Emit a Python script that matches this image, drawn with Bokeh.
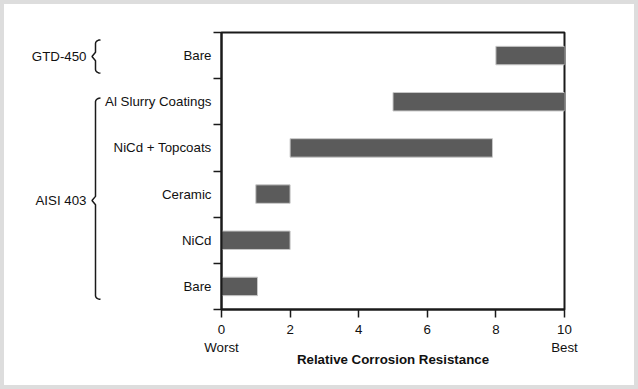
import numpy as np
from bokeh.plotting import figure
from bokeh.layouts import row
from bokeh.models import Range1d, FixedTicker, ColumnDataSource
from bokeh.embed import file_html
from bokeh.resources import INLINE

# ---- data (bottom to top) ----
coatings = ["Bare", "NiCd", "Ceramic", "NiCd + Topcoats", "Al Slurry Coatings", "Bare"]
alloys = ["AISI 403", "AISI 403", "AISI 403", "AISI 403", "AISI 403", "GTD-450"]
low = [0, 0, 1, 2, 5, 8.0]
high = [1.05, 2, 2, 7.9, 10, 10]
x_ticks = [0, 2, 4, 6, 8, 10]
end_labels = ["Worst", "Best"]
x_title = "Relative Corrosion Resistance"
group_names = ["GTD-450", "AISI 403"]

# ---- layout / style constants ----
FONT = "Liberation Sans"
FS = "13.3px"
DARK = "#1a1a1a"
TXT = "#111111"
TOTAL_H = 381
TOP, BOTTOM = 28, 76
SIDE_W, MAIN_W = 97, 533
# brace extents in category units (top, bottom, tip)
brace_spans = {"GTD-450": (5.84, 5.12, 5.48), "AISI 403": (4.58, 0.22, 2.36)}

n = len(coatings)
ypos = [i + 0.5 for i in range(n)]
yr = Range1d(0, n)

# ---------------- main chart ----------------
p = figure(width=MAIN_W, height=TOTAL_H, output_backend="svg", toolbar_location=None,
           x_range=Range1d(0, 10), y_range=yr,
           min_border_left=120, min_border_right=70, min_border_top=TOP, min_border_bottom=BOTTOM,
           styles={"background-color": "white"})
p.xgrid.visible = False
p.ygrid.visible = False
p.background_fill_color = "white"
p.border_fill_color = "white"
p.outline_line_color = DARK
p.outline_line_width = 2

src = ColumnDataSource(dict(y=ypos, left=low, right=high, name=coatings, alloy=alloys))
p.hbar(y="y", left="left", right="right", height=0.4, source=src,
       fill_color="#5b5b5b", line_color="#c8c8c8", line_width=1)

xa = p.xaxis[0]
xa.ticker = FixedTicker(ticks=x_ticks, minor_ticks=[])
xa.major_label_overrides = {x_ticks[0]: f"{x_ticks[0]}\n{end_labels[0]}",
                            x_ticks[-1]: f"{x_ticks[-1]}\n{end_labels[1]}"}
xa.major_tick_out = 8
xa.major_tick_in = 0
xa.major_tick_line_width = 1.5
xa.major_tick_line_color = DARK
xa.axis_line_width = 2
xa.axis_line_color = DARK
xa.major_label_text_font = FONT
xa.major_label_text_font_size = FS
xa.major_label_text_color = TXT
xa.major_label_text_line_height = 1.22
xa.major_label_standoff = 4
xa.axis_label = x_title
xa.axis_label_text_font = FONT
xa.axis_label_text_font_size = FS
xa.axis_label_text_font_style = "bold"
xa.axis_label_text_color = TXT
xa.axis_label_standoff = -6

ya = p.yaxis[0]
ya.ticker = FixedTicker(ticks=ypos, minor_ticks=list(range(n + 1)))
ya.major_label_overrides = {y: c for y, c in zip(ypos, coatings)}
ya.major_tick_out = 0
ya.major_tick_in = 0
ya.minor_tick_out = 8
ya.minor_tick_in = 0
ya.minor_tick_line_width = 1.5
ya.minor_tick_line_color = DARK
ya.axis_line_width = 2
ya.axis_line_color = DARK
ya.major_label_text_font = FONT
ya.major_label_text_font_size = FS
ya.major_label_text_color = TXT
ya.major_label_standoff = 2

# ---------------- side panel with group braces ----------------
side = figure(width=SIDE_W, height=TOTAL_H, output_backend="svg", toolbar_location=None,
              x_range=Range1d(0, SIDE_W), y_range=yr,
              min_border_left=0, min_border_right=0, min_border_top=TOP, min_border_bottom=BOTTOM,
              styles={"background-color": "white"})
side.axis.visible = False
side.xgrid.visible = False
side.ygrid.visible = False
side.outline_line_color = None
side.background_fill_color = "white"
side.border_fill_color = "white"

X_HOOK, X_V, X_TIP = 96.0, 91.0, 87.5
R, T = 0.08, 0.09


def brace(top, bot, mid):
    ang = np.linspace(np.pi / 2, np.pi, 6)
    rx = X_HOOK - X_V
    xs = list(X_HOOK + rx * np.cos(ang))
    ys = list(top - R + R * np.sin(ang))
    xs += [X_V, X_TIP, X_V]
    ys += [mid + T, mid, mid - T]
    xs += list(X_HOOK + rx * np.cos(ang[::-1]))
    ys += list(bot + R - R * np.sin(ang[::-1]))
    return xs, ys


bxs, bys, mids = [], [], []
for g in group_names:
    top, bot, mid = brace_spans[g]
    bx, by = brace(top, bot, mid)
    bxs.append(bx); bys.append(by); mids.append(mid)

side.multi_line(xs=bxs, ys=bys, line_color=DARK, line_width=1.5)
side.text(x=[X_TIP - 5.5] * len(group_names), y=mids, text=group_names,
          text_align="right", text_baseline="middle", text_font_size=FS,
          text_color=TXT, text_font={"value": FONT})

layout = row(side, p, styles={"padding": "4px", "background-color": "#dddddd"})

open("out.html", "w").write(file_html(layout, INLINE))
